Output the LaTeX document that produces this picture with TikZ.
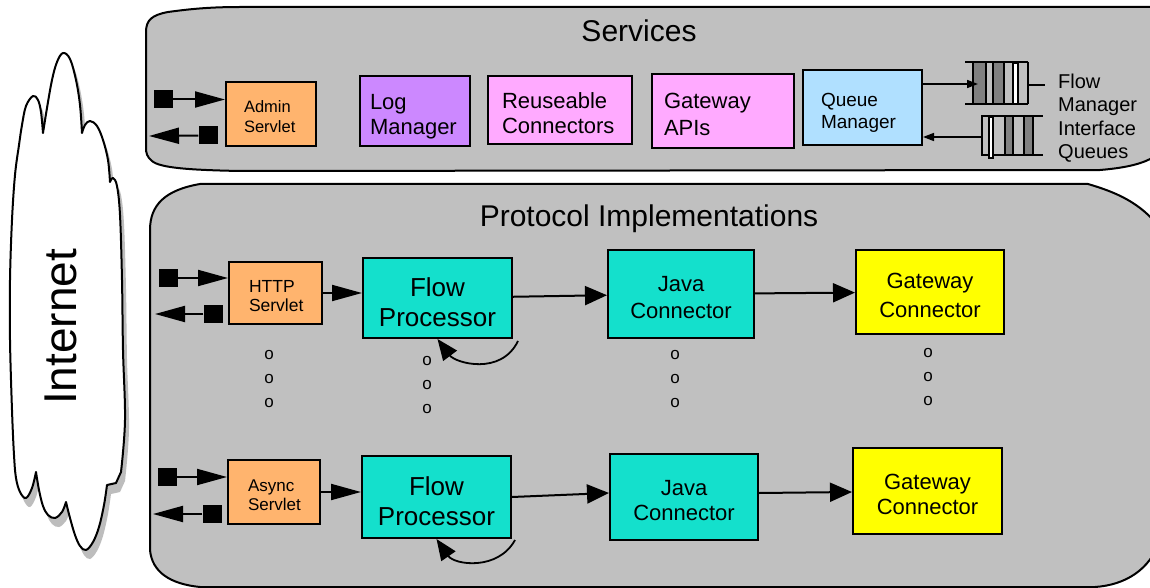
\documentclass[tikz,border=0pt]{standalone}
\usepackage{fontspec}
\setmainfont{Liberation Sans}
\usetikzlibrary{arrows.meta,calc}

\definecolor{panelgray}{HTML}{C0C0C0}
\definecolor{shadowgray}{HTML}{BDBDBD}
\definecolor{servletorange}{HTML}{FFB46E}
\definecolor{logpurple}{HTML}{CC88FF}
\definecolor{apipink}{HTML}{FFAAFF}
\definecolor{queueblue}{HTML}{B0E0FF}
\definecolor{flowteal}{HTML}{14E0CC}
\definecolor{gwyellow}{HTML}{FFFF00}
\definecolor{qdark}{HTML}{808080}

\newcommand\setfs[2]{\fontsize{#1}{#2}\selectfont}

% outline of the Internet cloud (sharp cusps between the lobes)
\newcommand\cloudoutline{
 plot[smooth,tension=0.6] coordinates {(43,133) (47,108) (52,80) (57,62) (63,53) (70,59) (76,80) (80,105) (82,133)}
 -- plot[smooth,tension=0.6] coordinates {(82,133) (85,125) (90,121) (97,126) (103,140) (108,160) (110,182)}
 -- plot[smooth,tension=0.6] coordinates {(110,182) (113,178) (117,186) (120,215) (122,280) (123,350) (125,420) (121,472)}
 -- (116,483) -- (107,485)
 -- plot[smooth,tension=0.6] coordinates {(107,485) (104,505) (99,527) (93,542) (86,550) (80,546) (75,535) (70,518) (66,502)}
 -- plot[smooth,tension=0.6] coordinates {(66,502) (62,512) (55,518) (48,515) (43,506) (39,490) (36,472)}
 -- plot[smooth,tension=0.6] coordinates {(36,472) (32,488) (26,498) (20,492) (16,478) (14,455) (12,410) (10,340) (10,280) (12,220) (15,175) (19,145) (22,125) (26,106) (33,96) (38,100) (41,112) (43,133)}
 -- cycle}

\begin{document}
\begin{tikzpicture}[x=1pt,y=-1pt,
  panel/.style={fill=panelgray,draw=black,line width=2pt},
  box/.style={draw=black,line width=2pt,inner ysep=0pt,
    execute at begin node={\rule{0pt}{1.25em}},
    execute at end node={\rule[-0.25em]{0pt}{0.25em}}},
  cbox/.style={box,align=center,inner xsep=5pt,text width=#1-10pt},
  sq/.style={fill=black,minimum width=19pt,minimum height=18pt,inner sep=0pt},
  dots/.style={align=center,inner sep=0pt,font=\setfs{17}{24}},
  bigarr/.style={line width=2pt,-{Triangle[length=30pt,width=16pt]}},
  midarr/.style={line width=2pt,-{Triangle[length=22pt,width=19pt]}},
  looparr/.style={line width=1.8pt,-{Triangle[length=21pt,width=17pt]}},
  smallarr/.style={line width=1.6pt,-{Triangle[length=11pt,width=8pt]}},
  qline/.style={line width=1.6pt}]

\fill[white] (0,0) rectangle (1150,588);
\useasboundingbox (0,0) rectangle (1150,588);

% ---------- Internet cloud ----------
\fill[shadowgray,shift={(4,9)}] \cloudoutline;
\draw[fill=white,line width=2pt,line join=round] \cloudoutline;
\node[rotate=90,font=\setfs{46}{50}] (inet) at (61,327) {Internet};

% ---------- Services panel ----------
\draw[panel] (146,32) .. controls (146,20) and (152,15) .. (168,12)
  .. controls (190,9) and (210,7) .. (240,7) -- (1175,7) -- (1175,110)
  .. controls (1172,150) and (1160,165) .. (1100,170) -- (240,171)
  .. controls (190,170) and (160,168) .. (152,161)
  .. controls (147,157) and (146,153) .. (146,148) -- cycle;
\node[font=\setfs{30}{36},anchor=base] (svctitle) at (639,42) {Services};

\node[sq] (sa1) at (163,99.5) {};
\node[sq] (sa2) at (208,135.5) {};
\coordinate (outA) at (149,136);

\node[box,fill=servletorange,align=left,minimum height=64pt,inner xsep=18pt,text width=54pt,font=\setfs{16.5}{20}] (admin) at (271,114) {Admin\\Servlet};
\node[box,fill=logpurple,align=left,minimum height=70pt,inner xsep=10pt,text width=90pt,font=\setfs{22}{25}] (logm) at (415,111) {Log\\Manager};
\node[box,fill=apipink,align=left,minimum height=68pt,inner xsep=14pt,text width=116pt,font=\setfs{22}{25}] (reuse) at (560,110) {Reuseable\\Connectors};
\node[box,fill=apipink,align=left,minimum height=74pt,inner xsep=12pt,text width=118pt,font=\setfs{22}{27}] (gwapi) at (723,111) {Gateway\\APIs};
\node[box,fill=queueblue,align=left,minimum height=75pt,inner xsep=18pt,text width=83pt,font=\setfs{19}{22}] (qm) at (862.5,108) {Queue\\Manager};

\draw[bigarr] (sa1) -- (sa1 -| admin.west);
\draw[bigarr] (sa2) -- (outA);

% flow manager interface queues
\coordinate (q1in) at (978,84);
\coordinate (q2out) at (982,137);
\draw[qline] (965,62) -- (1028,62) (965,104) -- (1028,104);
\filldraw[qline,fill=qdark] (973,62) rectangle (986,104);
\filldraw[qline,fill=qdark] (993,62) rectangle (1004,104);
\filldraw[qline,fill=white] (1013,63) rectangle (1018,104);
\draw[qline] (1028,62) -- (1028,104) (1028,85) -- (1045,85);

\draw[qline] (981,116) -- (1043,116) (981,155) -- (1043,155);
\draw[qline] (982,116) -- (982,155);
\filldraw[qline,fill=white] (989,117) rectangle (993,158);
\filldraw[qline,fill=qdark] (1005,116) rectangle (1013,155);
\filldraw[qline,fill=qdark] (1024,116) rectangle (1033,155);

\draw[smallarr] (qm.east |- q1in) -- (q1in);
\draw[smallarr] (q2out) -- (qm.east |- q2out);

\node[font=\setfs{20}{23.5},align=left,anchor=west,inner sep=0pt] (fmiq) at (1058,118) {Flow\\Manager\\Interface\\Queues};

% ---------- Protocol Implementations panel ----------
\draw[panel] (150,230) .. controls (150,205) and (165,190) .. (200,184)
  -- (1088,184) .. controls (1115,192) and (1140,202) .. (1160,228)
  -- (1160,540) .. controls (1150,570) and (1125,585) .. (1095,587)
  -- (200,587) .. controls (170,584) and (152,572) .. (150,550) -- cycle;
\node[font=\setfs{30}{36},anchor=base] (prottitle) at (649,226) {Protocol Implementations};

% first protocol row
\node[sq] (sh1) at (168.5,278) {};
\node[sq] (sh2) at (213,314) {};
\coordinate (outH) at (155,314);
\node[box,fill=servletorange,align=left,minimum height=62pt,inner xsep=20pt,text width=53pt,font=\setfs{17.5}{19}] (http) at (275.5,293) {HTTP\\Servlet};
\node[cbox=149pt,fill=flowteal,minimum height=80pt,font=\setfs{26}{30}] (fp1) at (437.5,298) {Flow\\Processor};
\node[cbox=146pt,fill=flowteal,minimum height=88pt,font=\setfs{22}{26.5}] (jc1) at (681,294) {Java\\Connector};
\node[cbox=148pt,fill=gwyellow,minimum height=84pt,font=\setfs{22}{29}] (gc1) at (930,292) {Gateway\\Connector};

\draw[bigarr] (sh1) -- (sh1 -| http.west);
\draw[bigarr] (sh2) -- (outH);
\draw[bigarr] (http) -- (http -| fp1.west);
\draw[midarr] (fp1) -- (jc1);
\draw[midarr] (jc1) -- (gc1);
\draw[looparr] ($(fp1.south east)+(5,2)$) .. controls ($(fp1.south east)+(-12,37)$) and ($(fp1.south)+(18,24)$) .. (fp1.south);

\node[dots] (dh) at (269,379) {o\\o\\o};
\node[dots] (dfp) at (427,385) {o\\o\\o};
\node[dots] (djc) at (675,379) {o\\o\\o};
\node[dots] (dgc) at (928,377) {o\\o\\o};

% second protocol row
\node[sq] (ss1) at (167,477) {};
\node[sq] (ss2) at (212,514) {};
\coordinate (outS) at (153,514);
\node[box,fill=servletorange,align=left,minimum height=64pt,inner xsep=20pt,text width=52pt,font=\setfs{17}{19}] (async) at (274,492) {Async\\Servlet};
\node[cbox=149pt,fill=flowteal,minimum height=82pt,font=\setfs{26}{30}] (fp2) at (436.5,497) {Flow\\Processor};
\node[cbox=148pt,fill=flowteal,minimum height=86pt,font=\setfs{22}{25}] (jc2) at (684,497) {Java\\Connector};
\node[cbox=149pt,fill=gwyellow,minimum height=86pt,font=\setfs{22}{24.5}] (gc2) at (927.5,491) {Gateway\\Connector};

\draw[bigarr] (ss1) -- (ss1 -| async.west);
\draw[bigarr] (ss2) -- (outS);
\draw[bigarr] (async) -- (async -| fp2.west);
\draw[midarr] (fp2.east) -- ($(jc2.west)+(0,-4)$);
\draw[midarr] ($(jc2.east)+(0,-4)$) -- ($(gc2.west)+(0,1)$);
\draw[looparr] ($(fp2.south east)+(3,1)$) .. controls ($(fp2.south east)+(-14,32)$) and ($(fp2.south)+(18,26)$) .. (fp2.south);

\end{tikzpicture}
\end{document}
